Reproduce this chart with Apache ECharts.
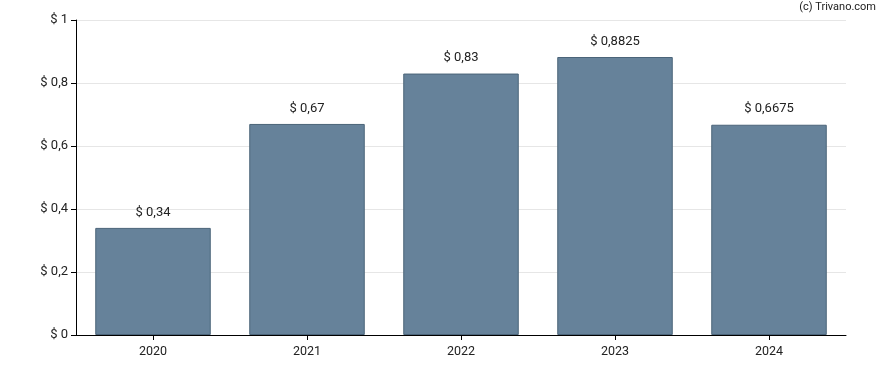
<!DOCTYPE html>
<html><head><meta charset="utf-8">
<script src="https://cdn.jsdelivr.net/npm/echarts@6/dist/echarts.min.js"></script>
<style>html,body{margin:0;padding:0;background:#fff}#c{width:888px;height:370px}</style>
</head><body><div id="c"></div>
<script>
const categories = ['2020','2021','2022','2023','2024'];
const values = [0.34, 0.67, 0.83, 0.8825, 0.6675];
const yTicks = [0, 0.2, 0.4, 0.6, 0.8, 1];

function fmt(v){ return '$ ' + String(v).replace('.', ','); }

const chart = echarts.init(document.getElementById('c'), null, {renderer:'canvas'});
chart.setOption({
  animation:false,
  textStyle:{fontFamily:'Roboto, Arial, sans-serif'},
  graphic:[{type:'text', right:12, top:2, style:{text:'(c) Trivano.com', fill:'#222', font:'11px Roboto, Arial, sans-serif'}}],
  grid:{left:76, right:42, top:20, bottom:35},
  xAxis:{type:'category', data:categories,
    axisLine:{lineStyle:{color:'#000'}},
    axisTick:{show:true, alignWithLabel:true, length:5, lineStyle:{color:'#000'}},
    axisLabel:{color:'#222', fontSize:12.5, margin:10},
  },
  yAxis:{type:'value', min:0, max:1, interval:0.2,
    axisLine:{show:true, lineStyle:{color:'#000'}},
    axisTick:{show:true, length:5, lineStyle:{color:'#000'}},
    splitLine:{lineStyle:{color:'#e6e6e6'}},
    axisLabel:{color:'#222', fontSize:13, margin:8, formatter:v=>fmt(Math.round(v*10)/10)}
  },
  series:[{type:'bar', data:values, barWidth:'75%',
    itemStyle:{color:'#66829a', borderColor:'#4b6479', borderWidth:1},
    label:{show:true, position:'top', distance:9, color:'#222', fontSize:13, formatter:p=>fmt(p.value)}
  }]
});
</script></body></html>
